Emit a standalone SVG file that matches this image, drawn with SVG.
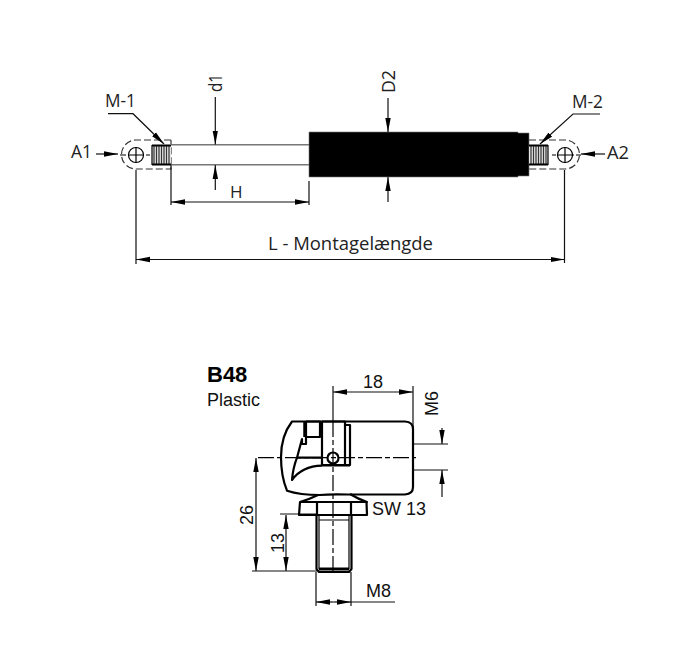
<svg xmlns="http://www.w3.org/2000/svg" width="700" height="670" viewBox="0 0 700 670">
<defs>
<marker id="a" markerUnits="userSpaceOnUse" markerWidth="15" markerHeight="7" refX="14" refY="3.500" orient="auto-start-reverse"><path d="M0,3.500 L0,0.800 L14,3.500 L0,6.200 Z" fill="#000"/></marker>
</defs>
<style>
text{fill:#111;font-family:"Liberation Sans",Arial,sans-serif;font-size:18px}
.o{font-family:"Open Sans","Noto Sans",sans-serif;fill:#222}
.d{fill:none;stroke:#111;stroke-width:1.200}
.da{fill:none;stroke:#111;stroke-width:1.200;marker-end:url(#a)}
.s{fill:none;stroke:#000;stroke-width:2.200;stroke-linejoin:round}
.t{fill:none;stroke:#000;stroke-width:1.200}
.c{fill:none;stroke:#000;stroke-width:1.200;stroke-dasharray:16 3 5 3}
.e{fill:none;stroke:#333;stroke-width:1.200;stroke-dasharray:7 3}
.r{fill:none;stroke:#777;stroke-width:1.600}
.h{stroke:#333;stroke-width:1.200}
.k{stroke:#000;stroke-width:2.200}
</style>
<rect width="700" height="670" fill="#fff"/>
<g id="gas-spring">
<path class="r" d="M171,144.700H309M171,164.700H309"/>
<path d="M309,132H518V133H529V176H518V177H309Z" fill="#000" stroke="#777" stroke-width=".6"/>
</g>
<g id="end-left">
<path class="e" d="M171,140H136A14.500,14.500 0 0 0 136,169H171V140"/>
<circle class="t" cx="136" cy="155" r="7.500" stroke="#333"/>
<path class="t" d="M120,155H126M128,155H144M146,155H150M136,147V163"/>
<rect x="152" y="145" width="19" height="20" fill="#e4e4e4"/>
<path class="h" d="M154,146V164M156.500,146V164M159,146V164M161.500,146V164M164,146V164M166.500,146V164M169,146V164"/>
<path class="k" d="M152,145.500H171M152,164.500H171"/>
<path class="t" d="M152,145V165"/>
</g>
<g id="end-right">
<path class="e" d="M529,140H565A14.500,14.500 0 0 1 565,169H529"/>
<circle class="t" cx="565" cy="155" r="7.500" stroke="#333"/>
<path class="t" d="M552,155H556M558,155H574M576,155H581M565,147V163"/>
<rect x="529" y="145" width="19" height="20" fill="#e4e4e4"/>
<path class="h" d="M531,146V164M533.500,146V164M536,146V164M538.500,146V164M541,146V164M543.500,146V164M546,146V164"/>
<path class="k" d="M529,145.500H548M529,164.500H548"/>
<path class="t" d="M548,145V165"/>
</g>
<g id="connectors">
<path class="da" d="M108,113.700H133L164,144"/>
<path class="da" d="M600,114H573L540,144"/>
<path class="da" d="M96,154H118"/>
<path class="da" d="M605,154H581"/>
<path class="da" d="M215.300,97V144.500"/>
<path class="da" d="M215.300,190V165"/>
<path class="da" d="M388,98V132"/>
<path class="da" d="M388,202V177"/>
<path class="d" d="M171,165V205M309,181V205M136,170V264M564.500,170V263"/>
<path class="da" d="M240,202H171"/>
<path class="da" d="M240,202H309"/>
<path class="da" d="M350,259.500H136"/>
<path class="da" d="M350,259.500H564.500"/>
<path class="da" d="M373,392H333"/>
<path class="da" d="M373,392H413"/>
<path class="d" d="M333,386V421M413,386V428M413,444H448M413,470H448M280,514H317M252,571H317M316,572V606M351,572V606"/>
<path class="da" d="M442,428V444"/>
<path class="da" d="M442,497V470"/>
<path class="da" d="M256,515V458"/>
<path class="da" d="M256,515V571"/>
<path class="da" d="M286,543V515"/>
<path class="da" d="M286,543V571"/>
<path class="da" d="M333.500,602H316"/>
<path class="da" d="M333.500,602H351"/>
<path class="d" d="M351,602H395"/>
</g>
<g id="b48-fitting">
<path class="s" d="M292,421.500H305M350,421.500H405Q413,422 413,429V487Q413,494 405,494.500H348Q330,494 320,495Q300,495 287,490.700C283,481 281,470 281,457C281,445 284,432 292,421.500Z"/>
<path class="s" d="M306,421.500V437H320V421.500H306"/>
<path d="M305,421.500V437" stroke="#000" stroke-width="3.500"/>
<path class="s" d="M322,421.500H345V465H322V421.500M345,425H350V465H345M322,465.500H350"/>
<path class="s" d="M306,437V444H302V439L297,457.700H322"/>
<path class="s" d="M297,457.700Q293,468 292,480Q302,466 322,465.600"/>
<circle class="s" cx="333" cy="458" r="5.500" fill="#fff"/>
<path class="s" d="M318,495Q310,499 300,502H367Q358,499 350,494"/>
<path class="s" d="M300,502L299,515H367L366.500,502M317,501V515M351,501V515"/>
<path class="s" d="M316.500,515V569L319,572H349L351.500,569V515"/>
<path class="t" d="M319,515V569M349,515V569M319,520H349"/>
<path d="M319,569H349" stroke="#000" stroke-width="3"/>
<path class="c" d="M258,457.700H416"/>
<path class="c" d="M333,421V575"/>
</g>
<g id="labels">
<text class="o" x="105" y="107" style="font-size:18px" textLength="31" lengthAdjust="spacingAndGlyphs">M-1</text>
<text class="o" x="572" y="108" style="font-size:18px" textLength="31" lengthAdjust="spacingAndGlyphs">M-2</text>
<text class="o" x="71" y="158" style="font-size:19px" textLength="21" lengthAdjust="spacingAndGlyphs">A1</text>
<text class="o" x="607" y="159" style="font-size:19px" textLength="22" lengthAdjust="spacingAndGlyphs">A2</text>
<text class="o" transform="translate(222,92) rotate(-90)" style="font-size:19px" textLength="18" lengthAdjust="spacingAndGlyphs">d1</text>
<text class="o" transform="translate(395,93) rotate(-90)" style="font-size:19px" textLength="23" lengthAdjust="spacingAndGlyphs">D2</text>
<text class="o" x="230" y="198" style="font-size:17px">H</text>
<text class="o" x="268" y="250" style="font-size:18.500px" textLength="165" lengthAdjust="spacingAndGlyphs">L - Montagelængde</text>
<text x="207" y="382" style="font-size:22px;font-weight:700;fill:#000">B48</text>
<text x="207" y="406" style="font-size:18px">Plastic</text>
<text x="363" y="388">18</text>
<text transform="translate(438,416) rotate(-90)">M6</text>
<text x="372" y="515">SW 13</text>
<text transform="translate(253,525) rotate(-90)">26</text>
<text transform="translate(284,553) rotate(-90)">13</text>
<text x="366" y="597">M8</text>
</g>
</svg>
